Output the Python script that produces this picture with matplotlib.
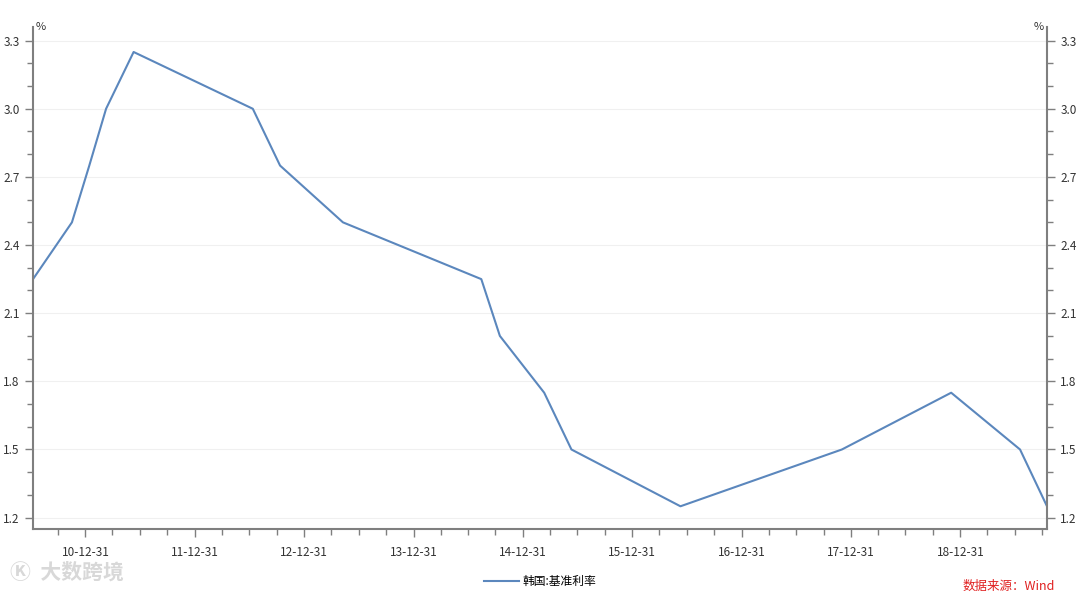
import matplotlib
matplotlib.use("Agg")
import matplotlib.pyplot as plt
import matplotlib.dates as mdates
from matplotlib.ticker import MultipleLocator
import pandas as pd

plt.rcParams['font.family'] = ['Noto Sans CJK SC', 'DejaVu Sans']

# 韩国基准利率变动日期与数值
dates = ["2010-07-09", "2010-11-16", "2011-01-13", "2011-03-10", "2011-06-10",
         "2012-07-12", "2012-10-11", "2013-05-09", "2014-08-14", "2014-10-15",
         "2015-03-12", "2015-06-11", "2016-06-09", "2017-11-30", "2018-11-30",
         "2019-07-18", "2019-10-16"]
rates = [2.25, 2.50, 2.75, 3.00, 3.25,
         3.00, 2.75, 2.50, 2.25, 2.00,
         1.75, 1.50, 1.25, 1.50, 1.75,
         1.50, 1.25]
series_name = "韩国:基准利率"

x = pd.to_datetime(dates)

fig = plt.figure(figsize=(10.8, 5.92), dpi=100)
ax = fig.add_axes([33 / 1080, 1 - 529 / 592, (1047 - 33) / 1080, (529 - 27) / 592])

ax.plot(x, rates, color="#5b87bd", lw=1.5, label=series_name)

ax.set_xlim(x[0], x[-1])
ax.set_ylim(1.15, 3.36)

spine_c = "#7f7f7f"
ax.spines["top"].set_visible(False)
for s in ["left", "bottom", "right"]:
    ax.spines[s].set_color(spine_c)
    ax.spines[s].set_linewidth(1.5)

ax.yaxis.set_major_locator(MultipleLocator(0.3))
ax.yaxis.set_minor_locator(MultipleLocator(0.1))
ax.yaxis.set_major_formatter(plt.FuncFormatter(lambda v, p: f"{v:.1f}"))
ax.grid(axis="y", which="major", color="#f0f0f0", lw=0.8)

ax.xaxis.set_major_locator(mdates.MonthLocator(bymonth=12, bymonthday=31))
ax.xaxis.set_minor_locator(mdates.MonthLocator(bymonth=[3, 6, 9, 12], bymonthday=-1))
ax.xaxis.set_major_formatter(mdates.DateFormatter("%y-12-31"))

ax.tick_params(axis="both", which="major", colors=spine_c, labelcolor="#333333",
               labelsize=8.5, length=6, width=1)
ax.tick_params(axis="both", which="minor", colors=spine_c, length=4, width=1)
ax.tick_params(axis="y", which="both", left=True, right=True, labelright=True)
ax.tick_params(axis="x", pad=6)

ax.text(0.003, 1.0, "%", transform=ax.transAxes, fontsize=8, color="#333333",
        ha="left", va="center")
ax.text(0.997, 1.0, "%", transform=ax.transAxes, fontsize=8, color="#333333",
        ha="right", va="center")

ax.legend(loc="upper center", bbox_to_anchor=(0.5, -0.07), frameon=False,
          fontsize=8.5, handlelength=3, handletextpad=0.3)

fig.text(10 / 1080, 1 - 572 / 592, "Ⓚ  大数跨境", fontsize=15, color="#d8d8d8",
         ha="left", va="center", fontweight="bold")
fig.text(1055 / 1080, 1 - 586 / 592, "数据来源：Wind", fontsize=9, color="#e02020",
         ha="right", va="center", style="italic")

fig.savefig("out.png", dpi=100)
